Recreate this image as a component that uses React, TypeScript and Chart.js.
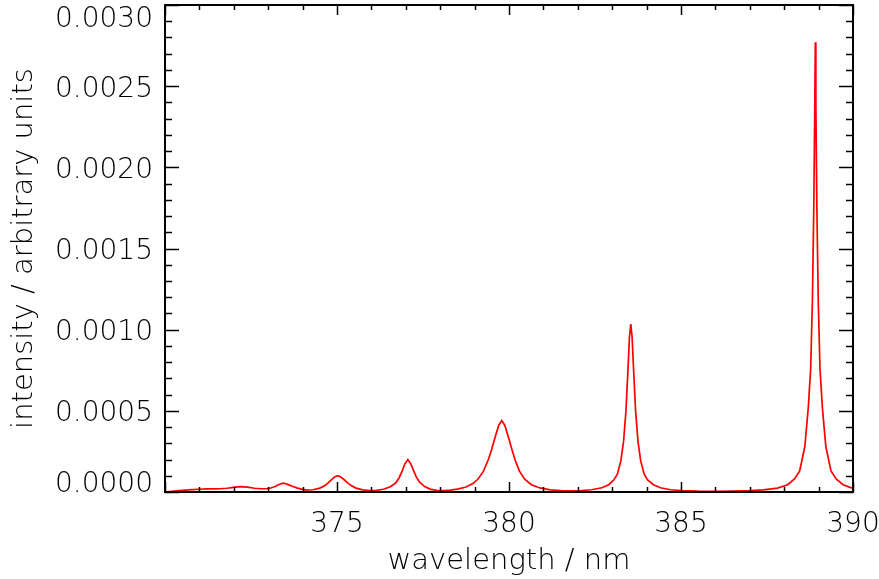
import React, { useEffect, useRef } from "react";
import { Chart, registerables } from "chart.js";

Chart.register(...registerables);

const wavelengths = [
  370.0, 370.2, 370.4, 370.6, 370.8, 371.0, 371.2, 371.4, 371.6, 371.8,
  372.0, 372.1, 372.2, 372.3, 372.45, 372.6, 372.8, 372.96, 373.1, 373.2,
  373.3, 373.37, 373.44, 373.51, 373.6, 373.7, 373.85, 374.0, 374.12, 374.3,
  374.5, 374.65, 374.75, 374.85, 374.93, 375.02, 375.11, 375.2, 375.3, 375.4,
  375.55, 375.75, 375.96, 376.15, 376.35, 376.55, 376.7, 376.8, 376.9, 376.97,
  377.06, 377.15, 377.22, 377.3, 377.4, 377.55, 377.7, 377.9, 378.1, 378.3,
  378.5, 378.75, 378.95, 379.1, 379.25, 379.4, 379.5, 379.6, 379.7, 379.79,
  379.88, 379.98, 380.08, 380.18, 380.3, 380.45, 380.65, 380.9, 381.2, 381.5,
  381.8, 382.1, 382.4, 382.7, 382.9, 383.05, 383.15, 383.25, 383.33, 383.4,
  383.46, 383.5, 383.54, 383.58, 383.62, 383.68, 383.75, 383.83, 383.93, 384.03,
  384.2, 384.4, 384.7, 385.0, 385.5, 386.0, 386.5, 387.0, 387.4, 387.8,
  388.1, 388.3, 388.45, 388.6, 388.7, 388.77, 388.82, 388.86, 388.89, 388.905,
  388.92, 388.95, 388.99, 389.04, 389.11, 389.21, 389.36, 389.51, 389.71, 390.0,
];

const intensity = [
  0.0, 0.000004, 0.000008, 0.000012, 0.000015, 0.000017, 0.000019, 0.000019, 0.00002, 0.000023,
  0.000029, 0.000032, 0.000033, 0.000032, 0.000028, 0.000023, 0.00002, 0.00002, 0.000026, 0.000034,
  0.000045, 0.000051, 0.000054, 0.000051, 0.000044, 0.000035, 0.000024, 0.000016, 0.000012, 0.000014,
  0.000024, 0.00004, 0.000058, 0.000078, 0.000093, 0.0001, 0.000093, 0.000077, 0.000058, 0.000041,
  0.000024, 0.000013, 0.000008, 0.00001, 0.000017, 0.000032, 0.000055, 0.000085, 0.000132, 0.000172,
  0.0002, 0.000172, 0.000135, 0.000095, 0.00006, 0.000033, 0.000018, 0.00001, 0.000009, 0.000012,
  0.000018, 0.000031, 0.000052, 0.00008, 0.000125, 0.0002, 0.000265, 0.00034, 0.00041, 0.00044,
  0.00041, 0.00034, 0.000265, 0.000195, 0.00013, 0.00008, 0.000045, 0.000025, 0.000013, 0.000008,
  0.000007, 0.000009, 0.000014, 0.000026, 0.000045, 0.000075, 0.00011, 0.00019, 0.00031, 0.0005,
  0.00076, 0.00095, 0.001035, 0.00095, 0.00076, 0.0005, 0.00031, 0.00019, 0.00011, 0.000075,
  0.000045, 0.000026, 0.000014, 0.000009, 0.000005, 0.000004, 0.000005, 0.000008, 0.000013, 0.000024,
  0.000045, 0.00008, 0.00013, 0.00028, 0.00052, 0.00076, 0.00118, 0.00175, 0.0024, 0.00277,
  0.0024, 0.00175, 0.00118, 0.00076, 0.00052, 0.00028, 0.00013, 0.00008, 0.000045, 0.000022,
];

const xMin = 370;
const xMax = 390;
const xMajorStep = 5;
const xMinorStep = 1;
const xLabelValues = [375, 380, 385, 390];
const xLabels = ["375", "380", "385", "390"];
const yMin = 0;
const yMax = 0.003;
const yMajorStep = 0.0005;
const yMinorStep = 0.0001;
const yTickValues = [0, 0.0005, 0.001, 0.0015, 0.002, 0.0025, 0.003];
const yTickLabels = ["0.0000", "0.0005", "0.0010", "0.0015", "0.0020", "0.0025", "0.0030"];

const FONT_FAMILY = "'DejaVu Sans', sans-serif";
const FONT_WEIGHT = 200;
const FONT_SIZE = 28;
const TITLE_SIZE = 29;

const framePlugin = {
  id: "framePlugin",
  afterDraw(chart: any) {
    const { ctx, chartArea } = chart;
    const { left, right, top, bottom } = chartArea;
    const xs = chart.scales.x;
    const ys = chart.scales.y;
    ctx.save();
    ctx.strokeStyle = "#000";
    ctx.lineWidth = 2;
    ctx.strokeRect(left, top, right - left, bottom - top);

    ctx.lineWidth = 1.5;
    ctx.beginPath();
    const nx = Math.round((xMax - xMin) / xMinorStep);
    for (let i = 0; i <= nx; i++) {
      const v = xMin + i * xMinorStep;
      const major = Math.abs(v / xMajorStep - Math.round(v / xMajorStep)) < 1e-6;
      const len = major ? 10 : 5;
      const px = Math.round(xs.getPixelForValue(v)) + 0.5;
      ctx.moveTo(px, bottom);
      ctx.lineTo(px, bottom - len);
      ctx.moveTo(px, top);
      ctx.lineTo(px, top + len);
    }
    const ny = Math.round((yMax - yMin) / yMinorStep);
    for (let i = 0; i <= ny; i++) {
      const v = yMin + i * yMinorStep;
      const major = i % Math.round(yMajorStep / yMinorStep) === 0;
      const len = major ? 14 : 7;
      const py = Math.round(ys.getPixelForValue(v)) + 0.5;
      ctx.moveTo(left, py);
      ctx.lineTo(left + len, py);
      ctx.moveTo(right, py);
      ctx.lineTo(right - len, py);
    }
    ctx.stroke();

    ctx.fillStyle = "#000";
    ctx.font = `${FONT_WEIGHT} ${FONT_SIZE}px ${FONT_FAMILY}`;
    ctx.textAlign = "right";
    ctx.textBaseline = "alphabetic";
    yTickValues.forEach((v, i) => {
      const label = yTickLabels[i];
      const m = ctx.measureText(label);
      const asc = m.actualBoundingBoxAscent;
      const py = ys.getPixelForValue(v);
      let base = py + asc / 2;
      if (base > bottom) base = bottom;
      if (base - asc < top + 1) base = top + 1 + asc;
      ctx.fillText(label, left - 12, base);
    });

    ctx.textAlign = "center";
    xLabelValues.forEach((v, i) => {
      const label = xLabels[i];
      const m = ctx.measureText(label);
      const asc = m.actualBoundingBoxAscent;
      const px = xs.getPixelForValue(v);
      ctx.fillText(label, px, bottom + 19 + asc);
    });
    ctx.restore();
  },
};

export default function App() {
  const ref = useRef<HTMLCanvasElement | null>(null);
  useEffect(() => {
    if (!ref.current) return;
    const titleFont = { family: FONT_FAMILY, size: TITLE_SIZE, weight: FONT_WEIGHT as any };
    const chart = new Chart(ref.current, {
      type: "scatter",
      data: {
        datasets: [
          {
            data: wavelengths.map((x, i) => ({ x, y: intensity[i] })),
            showLine: true,
            borderColor: "#ff0000",
            borderWidth: 1.7,
            pointRadius: 0,
            tension: 0,
          },
        ],
      },
      options: {
        animation: false,
        responsive: false,
        layout: { padding: { left: 0, right: 26, top: 5, bottom: 0 } },
        plugins: { legend: { display: false }, tooltip: { enabled: false } },
        scales: {
          x: {
            type: "linear",
            min: xMin,
            max: xMax,
            grid: { display: false },
            border: { display: false },
            afterFit: (s: any) => {
              s.height = 87;
            },
            ticks: { display: false, stepSize: xMajorStep },
            title: {
              display: true,
              text: "wavelength / nm",
              color: "#000",
              font: titleFont,
              padding: { top: 0, bottom: 0 },
            },
          },
          y: {
            type: "linear",
            min: yMin,
            max: yMax,
            grid: { display: false },
            border: { display: false },
            afterFit: (s: any) => {
              s.width = 165;
            },
            ticks: { display: false, stepSize: yMajorStep },
            title: {
              display: true,
              text: "intensity / arbitrary units",
              color: "#000",
              font: titleFont,
              padding: { top: 7, bottom: 0 },
            },
          },
        },
      },
      plugins: [framePlugin],
    });
    return () => chart.destroy();
  }, []);
  return (
    <canvas
      ref={ref}
      width={879}
      height={579}
      style={{ position: "absolute", left: 0, top: 0, display: "block" }}
    />
  );
}
